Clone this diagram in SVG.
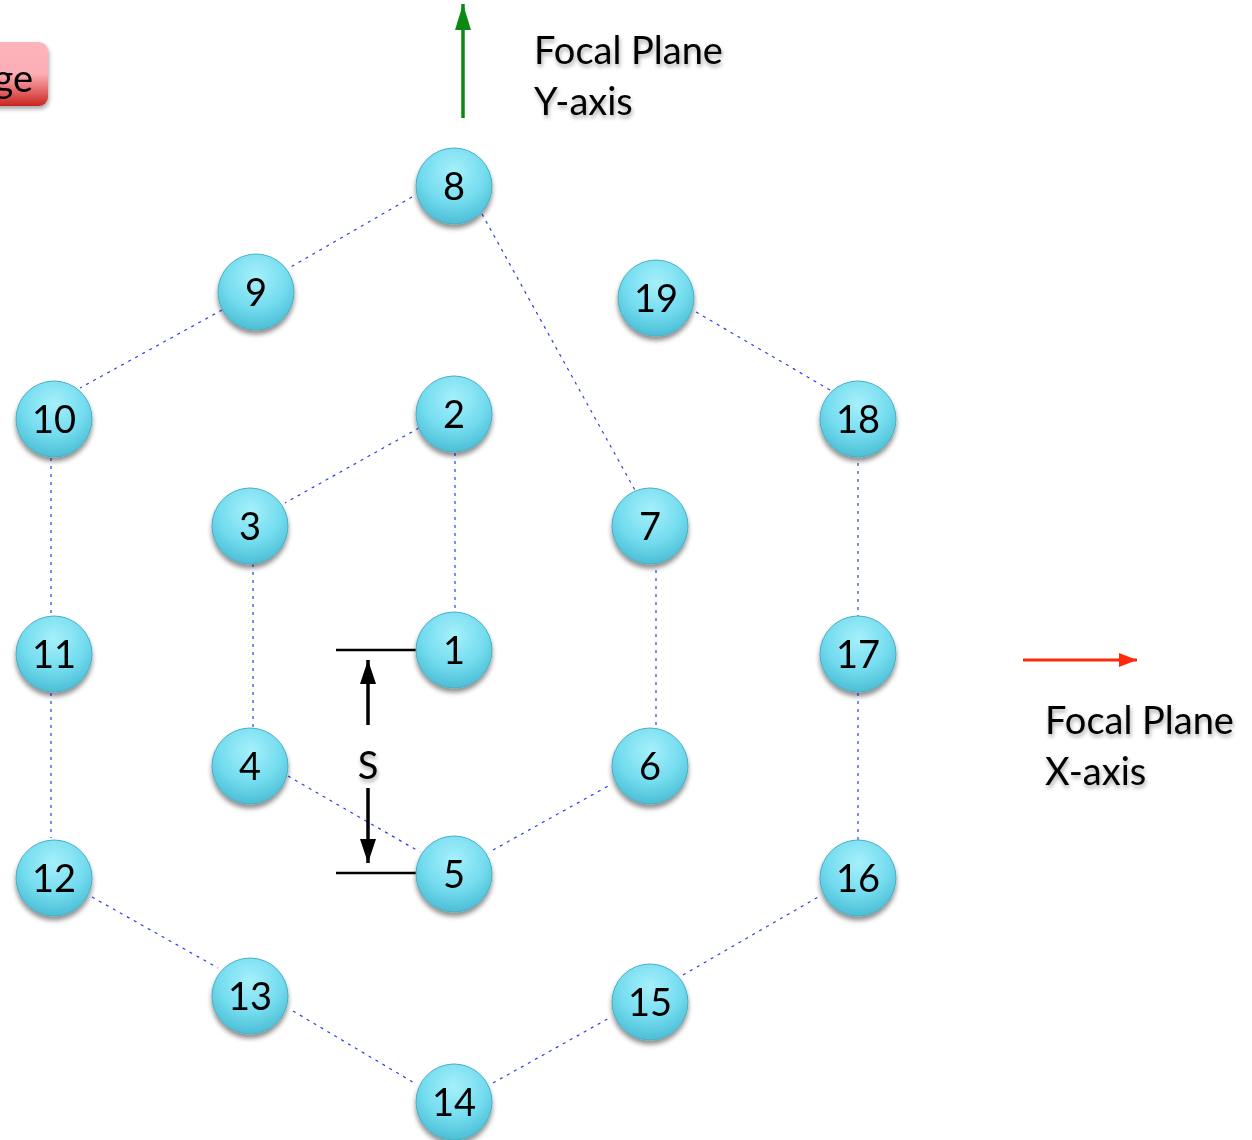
<svg xmlns="http://www.w3.org/2000/svg" width="1252" height="1140" viewBox="0 0 1252 1140">
<defs>
<radialGradient id="ball" cx="0.5" cy="0.3" r="0.75">
<stop offset="0" stop-color="#a6f0fb"/>
<stop offset="0.55" stop-color="#74dcef"/>
<stop offset="1" stop-color="#45b9d0"/>
</radialGradient>
<linearGradient id="redbox" x1="0" y1="0" x2="0" y2="1">
<stop offset="0" stop-color="#ffb3ba"/>
<stop offset="0.5" stop-color="#fbaeb5"/>
<stop offset="0.75" stop-color="#e66a6a"/>
<stop offset="1" stop-color="#c8251f"/>
</linearGradient>
<filter id="shadow" x="-30%" y="-30%" width="160%" height="170%">
<feGaussianBlur in="SourceAlpha" stdDeviation="2.5"/>
<feOffset dx="0" dy="4" result="b"/>
<feComponentTransfer><feFuncA type="linear" slope="0.45"/></feComponentTransfer>
<feMerge><feMergeNode/><feMergeNode in="SourceGraphic"/></feMerge>
</filter>
<filter id="tshadow" x="-10%" y="-30%" width="120%" height="180%">
<feGaussianBlur in="SourceAlpha" stdDeviation="2"/>
<feOffset dx="1" dy="3"/>
<feComponentTransfer><feFuncA type="linear" slope="0.35"/></feComponentTransfer>
<feMerge><feMergeNode/><feMergeNode in="SourceGraphic"/></feMerge>
</filter>
<marker id="blackhead" viewBox="0 0 24 16" refX="24" refY="8" markerWidth="24" markerHeight="16" markerUnits="userSpaceOnUse" orient="auto">
<path d="M0,0 L24,8 L0,16 z" fill="#000"/>
</marker>
<marker id="greenhead" viewBox="0 0 26 16" refX="26" refY="8" markerWidth="26" markerHeight="16" markerUnits="userSpaceOnUse" orient="auto">
<path d="M0,0 L26,8 L0,16 z" fill="#0a8a14"/>
</marker>
<marker id="redhead" viewBox="0 0 18 14" refX="18" refY="7" markerWidth="18" markerHeight="14" markerUnits="userSpaceOnUse" orient="auto">
<path d="M0,0 L18,7 L0,14 z" fill="#ff2a0a"/>
</marker>
</defs>
<style>
.conn line { stroke: #2b3cf0; stroke-width: 1.2; stroke-dasharray: 3 5; fill: none; }
.node circle.b { fill: url(#ball); stroke: #4aaec2; stroke-width: 1; }
.node text { font-family: Lato, "Liberation Sans", sans-serif; font-size: 38px; text-anchor: middle; fill: #000; }
.lbl { font-family: Lato, "Liberation Sans", sans-serif; font-size: 38px; fill: #000; }
</style>
<rect width="1252" height="1140" fill="#fff"/>

<g id="title-box" filter="url(#tshadow)">
<rect x="-20" y="42" width="68" height="64" rx="9" fill="url(#redbox)"/>
<text class="lbl" x="33" y="92" text-anchor="end">ge</text>
</g>

<g id="connectors" class="conn">
<line x1="412" y1="197" x2="289" y2="268"/>
<line x1="222" y1="310" x2="80" y2="388"/>
<line x1="51" y1="458" x2="51" y2="615"/>
<line x1="51" y1="693" x2="51" y2="838"/>
<line x1="92" y1="897" x2="218" y2="968"/>
<line x1="293" y1="1011" x2="416" y2="1084"/>
<line x1="493" y1="1083" x2="611" y2="1017"/>
<line x1="683" y1="975" x2="820" y2="896"/>
<line x1="858" y1="840" x2="858" y2="692"/>
<line x1="858" y1="618" x2="858" y2="460"/>
<line x1="830" y1="390" x2="696" y2="312"/>
<line x1="482" y1="214" x2="636" y2="492"/>
<line x1="419" y1="428" x2="285" y2="503"/>
<line x1="455" y1="453" x2="455" y2="612"/>
<line x1="253" y1="564" x2="253" y2="728"/>
<line x1="656" y1="570" x2="656" y2="728"/>
<line x1="288" y1="776" x2="420" y2="852"/>
<line x1="493" y1="850" x2="610" y2="785"/>
</g>

<g id="dimension-s">
<line x1="336" y1="650" x2="418" y2="650" stroke="#000" stroke-width="2.5"/>
<line x1="336" y1="873" x2="418" y2="873" stroke="#000" stroke-width="2.5"/>
<line x1="368" y1="725" x2="368" y2="660" stroke="#000" stroke-width="3.5" marker-end="url(#blackhead)"/>
<line x1="368" y1="788" x2="368" y2="863" stroke="#000" stroke-width="3.5" marker-end="url(#blackhead)"/>
<text class="lbl" x="368" y="779" text-anchor="middle" font-size="35" filter="url(#tshadow)">S</text>
</g>

<g id="y-axis">
<line x1="463" y1="118" x2="463" y2="4" stroke="#0a8a14" stroke-width="3.5" marker-end="url(#greenhead)"/>
<g filter="url(#tshadow)">
<text class="lbl" x="534" y="64">Focal Plane</text>
<text class="lbl" x="534" y="115">Y-axis</text>
</g>
</g>

<g id="x-axis">
<line x1="1023" y1="660" x2="1137" y2="660" stroke="#ff2a0a" stroke-width="3" marker-end="url(#redhead)"/>
<g filter="url(#tshadow)">
<text class="lbl" x="1045" y="734">Focal Plane</text>
<text class="lbl" x="1045" y="785">X-axis</text>
</g>
</g>

<g id="node-8" class="node" filter="url(#shadow)"><circle class="b" cx="454" cy="186" r="38"/><text x="454" y="200">8</text></g>
<g id="node-9" class="node" filter="url(#shadow)"><circle class="b" cx="256" cy="292" r="38"/><text x="256" y="306">9</text></g>
<g id="node-19" class="node" filter="url(#shadow)"><circle class="b" cx="656" cy="298" r="38"/><text x="656" y="312">19</text></g>
<g id="node-10" class="node" filter="url(#shadow)"><circle class="b" cx="54" cy="419" r="38"/><text x="54" y="433">10</text></g>
<g id="node-2" class="node" filter="url(#shadow)"><circle class="b" cx="454" cy="414" r="38"/><text x="454" y="428">2</text></g>
<g id="node-18" class="node" filter="url(#shadow)"><circle class="b" cx="858" cy="419" r="38"/><text x="858" y="433">18</text></g>
<g id="node-3" class="node" filter="url(#shadow)"><circle class="b" cx="250" cy="526" r="38"/><text x="250" y="540">3</text></g>
<g id="node-7" class="node" filter="url(#shadow)"><circle class="b" cx="650" cy="526" r="38"/><text x="650" y="540">7</text></g>
<g id="node-11" class="node" filter="url(#shadow)"><circle class="b" cx="54" cy="654" r="38"/><text x="54" y="668">11</text></g>
<g id="node-1" class="node" filter="url(#shadow)"><circle class="b" cx="454" cy="650" r="38"/><text x="454" y="664">1</text></g>
<g id="node-17" class="node" filter="url(#shadow)"><circle class="b" cx="858" cy="654" r="38"/><text x="858" y="668">17</text></g>
<g id="node-4" class="node" filter="url(#shadow)"><circle class="b" cx="250" cy="766" r="38"/><text x="250" y="780">4</text></g>
<g id="node-6" class="node" filter="url(#shadow)"><circle class="b" cx="650" cy="766" r="38"/><text x="650" y="780">6</text></g>
<g id="node-12" class="node" filter="url(#shadow)"><circle class="b" cx="54" cy="878" r="38"/><text x="54" y="892">12</text></g>
<g id="node-5" class="node" filter="url(#shadow)"><circle class="b" cx="454" cy="874" r="38"/><text x="454" y="888">5</text></g>
<g id="node-16" class="node" filter="url(#shadow)"><circle class="b" cx="858" cy="878" r="38"/><text x="858" y="892">16</text></g>
<g id="node-13" class="node" filter="url(#shadow)"><circle class="b" cx="250" cy="996" r="38"/><text x="250" y="1010">13</text></g>
<g id="node-15" class="node" filter="url(#shadow)"><circle class="b" cx="650" cy="1002" r="38"/><text x="650" y="1016">15</text></g>
<g id="node-14" class="node" filter="url(#shadow)"><circle class="b" cx="454" cy="1102" r="38"/><text x="454" y="1116">14</text></g>
</svg>
